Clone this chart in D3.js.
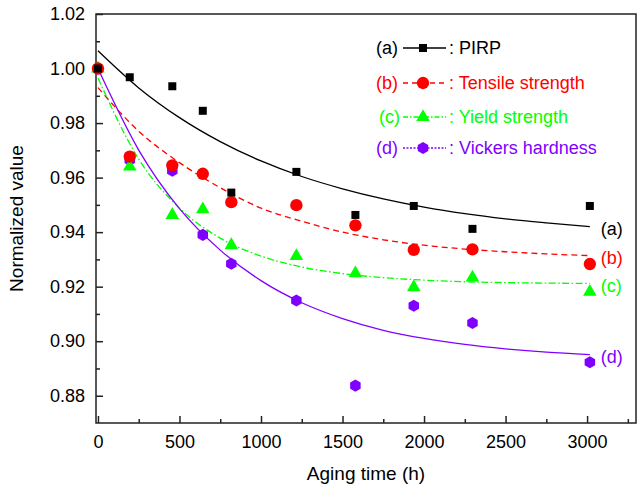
<!DOCTYPE html>
<html>
<head>
<meta charset="utf-8">
<script src="https://cdn.jsdelivr.net/npm/d3@7"></script>
<style>
	body { margin: 0; background: #fff; }
	text { font-family: "Liberation Sans", Arial, sans-serif; }
	.axis path, .axis line { stroke: #222; stroke-width: 1.5px; }
	.axis text { font-size: 18px; fill: #000; }
</style>
</head>
<body>
<div id="chart"></div>
<script>

////////////////////////////////////////////////////////////
//////////////////////// Data //////////////////////////////
////////////////////////////////////////////////////////////

//Aging times of the measurements (h)
var times = [0, 195, 456, 643, 818, 1217, 1579, 1937, 2297, 3017];

//Measured, normalized values
var pirp     = [1.000, 0.9968, 0.9935, 0.9845, 0.9545, 0.9621, 0.9463, 0.9496, 0.9412, 0.9496];
var tensile  = [1.000, 0.9677, 0.9645, 0.9614, 0.9510, 0.9499, 0.9425, 0.9335, 0.9337, 0.9283];
var yieldStr = [1.000, 0.9640, 0.9463, 0.9484, 0.9352, 0.9312, 0.9249, 0.9198, 0.9233, 0.9181];
var hardness = [1.000, 0.9665, 0.9625, 0.9390, 0.9284, 0.9149, 0.8837, 0.9130, 0.9067, 0.8923];

//Fitted curves
var fitTimes    = [0, 250, 500, 750, 1000, 1250, 1500, 1750, 2000, 2250, 2500, 2750, 3017];
var fitPirp     = [1.0065, 0.9929, 0.9820, 0.9732, 0.9661, 0.9604, 0.9559, 0.9522, 0.9492, 0.9468, 0.9449, 0.9434, 0.9420];
var fitTensile  = [0.9930, 0.9770, 0.9655, 0.9563, 0.9488, 0.9440, 0.9400, 0.9372, 0.9352, 0.9338, 0.9328, 0.9320, 0.9314];
var fitYield    = [0.9965, 0.9668, 0.9488, 0.9378, 0.9312, 0.9272, 0.9248, 0.9233, 0.9224, 0.9218, 0.9215, 0.9213, 0.9212];
var fitHardness = [1.0000, 0.9701, 0.9486, 0.9334, 0.9222, 0.9141, 0.9083, 0.9040, 0.9010, 0.8988, 0.8972, 0.8960, 0.8951];

var tags   = ["(a)", "(b)", "(c)", "(d)"];
var names  = ["PIRP", "Tensile strength", "Yield strength", "Vickers hardness"];
var yTicks = [0.88, 0.90, 0.92, 0.94, 0.96, 0.98, 1.00, 1.02];
var xTicks = [0, 500, 1000, 1500, 2000, 2500, 3000];

////////////////////////////////////////////////////////////
//////////////////////// Setup /////////////////////////////
////////////////////////////////////////////////////////////

var margin = {top: 14, right: 8, bottom: 68, left: 96},
	width = 644 - margin.left - margin.right,
	height = 491 - margin.top - margin.bottom;

var svg = d3.select("#chart").append("svg")
	.attr("width", 644)
	.attr("height", 491)
	.append("g")
	.attr("transform", "translate(" + margin.left + "," + margin.top + ")");

var x = d3.scaleLinear().domain([-12, 3300]).range([0, width]);
var y = d3.scaleLinear().domain([0.87, 1.02]).range([height, 0]);

//Pointy-top hexagon for the hardness markers
var hexagon = {
	draw: function(context, size) {
		var r = Math.sqrt(size / (1.5 * Math.sqrt(3)));
		for (var i = 0; i < 6; i++) {
			var a = Math.PI / 3 * i - Math.PI / 2;
			if (i === 0) context.moveTo(r * Math.cos(a), r * Math.sin(a));
			else context.lineTo(r * Math.cos(a), r * Math.sin(a));
		}
		context.closePath();
	}
};

var series = [
	{tag: tags[0], name: names[0], values: pirp,     fit: fitPirp,     color: "#000000", dash: null,            legendDash: null,        symbol: d3.symbolSquare,   size: 64},
	{tag: tags[1], name: names[1], values: tensile,  fit: fitTensile,  color: "#ff0000", dash: "6,4",           legendDash: "5,4",       symbol: d3.symbolCircle,   size: 120},
	{tag: tags[2], name: names[2], values: yieldStr, fit: fitYield,    color: "#00ff00", dash: "7,2.5,1.5,2.5", legendDash: "5,2,1.5,2", symbol: d3.symbolTriangle, size: 80},
	{tag: tags[3], name: names[3], values: hardness, fit: fitHardness, color: "#8000ff", dash: null,            legendDash: "2,1.5",     symbol: hexagon,           size: 95}
];

////////////////////////////////////////////////////////////
//////////////////////// Axes //////////////////////////////
////////////////////////////////////////////////////////////

//Frame
svg.append("rect")
	.attr("width", width)
	.attr("height", height)
	.style("fill", "none")
	.style("stroke", "#222")
	.style("stroke-width", 1.5);

var yMinor = d3.range(0.89, 1.015, 0.02);
var xMinor = d3.range(250, 3300, 500);

svg.append("g")
	.attr("class", "axis")
	.call(d3.axisLeft(y).tickValues(yTicks).tickSize(-7).tickPadding(11).tickFormat(d3.format(".2f")))
	.call(function(g) { g.select(".domain").remove(); });

svg.append("g")
	.attr("class", "axis")
	.call(d3.axisLeft(y).tickValues(yMinor).tickSize(-4).tickFormat(""))
	.call(function(g) { g.select(".domain").remove(); });

svg.append("g")
	.attr("class", "axis")
	.attr("transform", "translate(0," + height + ")")
	.call(d3.axisBottom(x).tickValues(xTicks).tickSize(-7).tickPadding(12).tickFormat(d3.format("d")))
	.call(function(g) { g.select(".domain").remove(); });

svg.append("g")
	.attr("class", "axis")
	.attr("transform", "translate(0," + height + ")")
	.call(d3.axisBottom(x).tickValues(xMinor).tickSize(-4).tickFormat(""))
	.call(function(g) { g.select(".domain").remove(); });

//Axis titles
svg.append("text")
	.attr("x", width / 2)
	.attr("y", height + 57)
	.style("text-anchor", "middle")
	.style("font-size", "19px")
	.text("Aging time (h)");

svg.append("text")
	.attr("transform", "translate(" + (-73) + "," + (height / 2) + ") rotate(-90)")
	.style("text-anchor", "middle")
	.style("font-size", "19px")
	.text("Normalized value");

////////////////////////////////////////////////////////////
///////////////////// Fitted curves ////////////////////////
////////////////////////////////////////////////////////////

var line = d3.line()
	.x(function(d) { return x(d[0]); })
	.y(function(d) { return y(d[1]); })
	.curve(d3.curveMonotoneX);

series.forEach(function(s) {
	svg.append("path")
		.datum(d3.zip(fitTimes, s.fit))
		.attr("d", line)
		.style("fill", "none")
		.style("stroke", s.color)
		.style("stroke-width", 1.3)
		.style("stroke-dasharray", s.dash);

	//Tag at the end of each curve
	svg.append("text")
		.attr("x", x(fitTimes[fitTimes.length - 1]) + 11)
		.attr("y", y(s.fit[s.fit.length - 1]) + 2)
		.attr("dy", "0.35em")
		.style("font-size", "18px")
		.style("fill", s.color)
		.text(s.tag);
});

////////////////////////////////////////////////////////////
//////////////////////// Markers ///////////////////////////
////////////////////////////////////////////////////////////

//Drawn back to front so the squares end on top
series.slice().reverse().forEach(function(s) {
	svg.selectAll(null)
		.data(d3.zip(times, s.values))
		.enter().append("path")
		.attr("transform", function(d) { return "translate(" + x(d[0]) + "," + y(d[1]) + ")"; })
		.attr("d", d3.symbol().type(s.symbol).size(s.size))
		.style("fill", s.color);
});

////////////////////////////////////////////////////////////
//////////////////////// Legend ////////////////////////////
////////////////////////////////////////////////////////////

var legendRows = [34, 69, 103, 134];

var legend = svg.selectAll(".legend-row")
	.data(series)
	.enter().append("g")
	.attr("class", "legend-row")
	.attr("transform", function(d, i) { return "translate(280," + legendRows[i] + ")"; });

legend.append("text")
	.attr("x", function(d, i) { return i === 2 ? 3 : 0; })
	.attr("dy", "0.35em")
	.style("font-size", "18px")
	.style("fill", function(d) { return d.color; })
	.text(function(d) { return d.tag; });

legend.append("line")
	.attr("x1", 27)
	.attr("x2", 70)
	.style("stroke", function(d) { return d.color; })
	.style("stroke-width", 1.3)
	.style("stroke-dasharray", function(d) { return d.legendDash; });

legend.append("path")
	.attr("transform", "translate(47,0)")
	.attr("d", function(d) { return d3.symbol().type(d.symbol).size(d.size)(); })
	.style("fill", function(d) { return d.color; });

legend.append("text")
	.attr("x", 73)
	.attr("dy", "0.35em")
	.style("font-size", "18px")
	.style("fill", function(d) { return d.color; })
	.text(function(d) { return ": " + d.name; });

</script>
</body>
</html>
